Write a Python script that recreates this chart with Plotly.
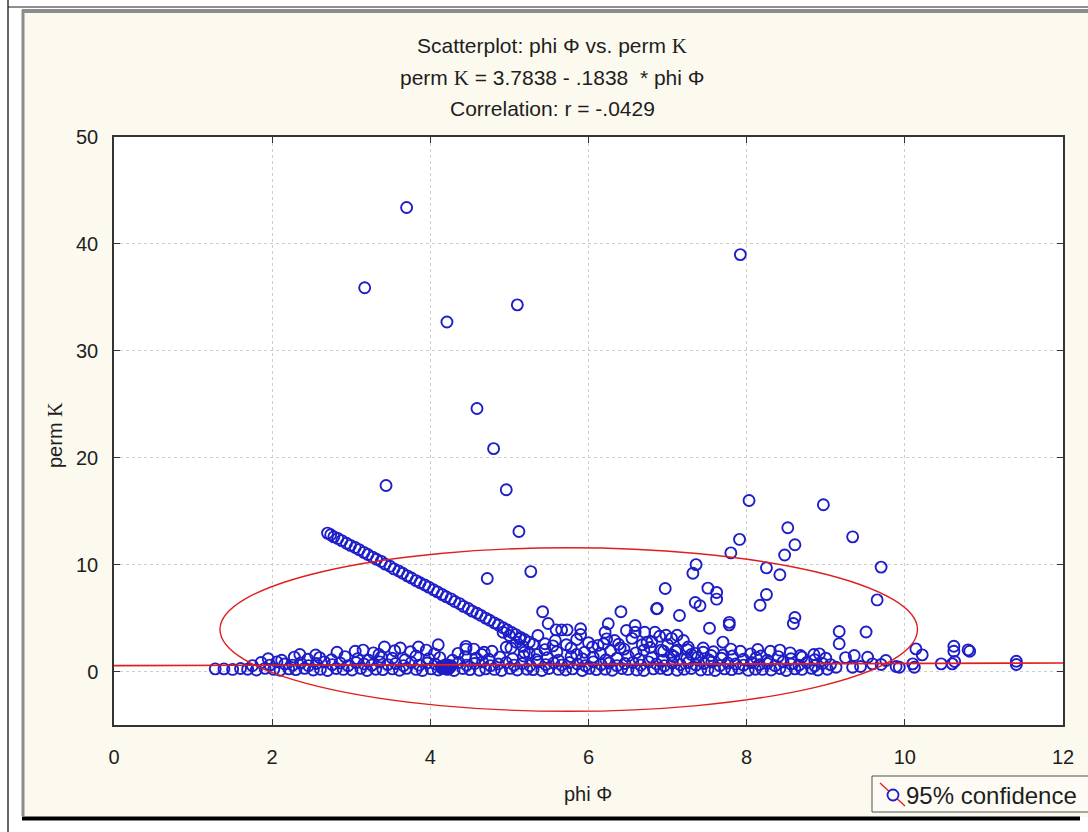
import plotly.graph_objects as go

# ---------------- data ----------------
# isolated high-permeability points
out_phi = [3.70, 3.17, 4.21, 5.10, 4.59,
           4.80, 3.44, 4.96, 5.12, 4.72,
           5.27, 7.92, 8.03, 8.97, 8.52,
           9.34, 7.91, 8.61, 8.48, 7.80,
           7.36, 7.32, 9.70, 8.25, 8.42,
           6.97, 7.51, 7.62, 7.62, 8.25,
           8.17, 6.87, 7.35, 7.41, 7.15,
           8.61, 8.59, 7.78, 7.78, 7.53,
           9.17, 9.17, 9.51, 9.65, 7.70,
           8.14, 5.42, 5.49, 6.41]
out_k = [43.4, 35.9, 32.7, 34.3, 24.6,
         20.85, 17.4, 17.0, 13.1, 8.7,
         9.35, 39.0, 16.0, 15.6, 13.45,
         12.6, 12.36, 11.86, 10.9, 11.1,
         10.0, 9.2, 9.77, 9.7, 9.05,
         7.77, 7.8, 7.4, 6.77, 7.2,
         6.2, 5.9, 6.46, 6.15, 5.24,
         5.05, 4.5, 4.6, 4.37, 4.05,
         3.75, 2.6, 3.7, 6.7, 2.75,
         2.06, 5.6, 4.5, 5.6]

# descending diagonal run of points
diag_phi = [2.70, 2.74, 2.78, 2.83, 2.88, 2.94, 2.99, 3.05, 3.10, 3.16,
            3.21, 3.27, 3.32, 3.38, 3.43, 3.49, 3.54, 3.60, 3.65, 3.71,
            3.76, 3.82, 3.87, 3.93, 3.98, 4.04, 4.09, 4.15, 4.20, 4.26,
            4.31, 4.37, 4.42, 4.48, 4.53, 4.59, 4.64, 4.70, 4.75, 4.81,
            4.86, 4.92, 4.97, 5.03, 5.08, 5.14, 5.19, 5.25, 5.30]
diag_k = [12.95, 12.8, 12.6, 12.45, 12.25, 12.0, 11.8, 11.6, 11.4, 11.15,
          10.95, 10.7, 10.5, 10.3, 10.05, 9.85, 9.6, 9.4, 9.2, 8.95,
          8.75, 8.5, 8.3, 8.1, 7.9, 7.65, 7.45, 7.2, 7.0, 6.8,
          6.55, 6.35, 6.1, 5.9, 5.65, 5.45, 5.25, 5.0, 4.8, 4.55,
          4.35, 4.1, 3.9, 3.65, 3.45, 3.2, 3.0, 2.75, 2.55]

# mid-level points
mid_phi = [5.59, 5.66, 5.73, 5.90, 5.90, 6.25, 6.21, 6.23, 6.19, 6.33,
           6.48, 6.59, 6.59, 6.71, 6.74, 6.84, 6.86, 4.92, 5.00, 5.13,
           5.09, 5.17, 5.36, 4.45, 4.68, 4.96, 5.19,
           6.90, 6.98, 7.05, 7.12, 7.20, 7.26, 7.00, 6.92, 7.10, 7.30, 7.45, 7.55,
           5.45, 5.58, 5.72, 5.85, 6.00, 6.12, 6.38, 6.55, 6.68, 6.80,
           10.14, 10.22, 10.62, 10.62, 10.80, 10.82]
mid_k = [3.9, 3.9, 3.9, 4.0, 3.47, 4.47, 3.68, 3.06, 2.6, 2.9,
         3.84, 4.3, 3.68, 3.68, 2.74, 3.68, 5.87, 3.68, 3.37, 3.06,
         2.74, 2.34, 3.37, 2.1, 1.8, 2.27, 1.8,
         3.3, 3.4, 3.1, 3.4, 2.9, 2.3, 2.5, 2.0, 1.9, 1.6, 2.2, 1.5,
         2.6, 2.9, 2.5, 3.0, 2.7, 2.45, 2.55, 3.1, 2.5, 2.8,
         2.12, 1.56, 2.37, 1.9, 2.03, 1.9]

# dense low band, row by row
band1_phi = [1.28, 1.39, 1.50, 1.60, 1.69, 1.80, 1.91, 2.02, 2.10, 2.21,
             2.30, 2.41, 2.52, 2.61, 2.70, 2.81, 2.90, 3.01, 3.12, 3.20,
             3.31, 3.40, 3.52, 3.61, 3.70, 3.82, 3.90, 4.01, 4.10, 4.18,
             4.22, 4.30, 4.41, 4.50, 4.62, 4.70, 4.81, 4.90, 5.01, 5.10,
             5.22, 5.30, 5.41, 5.50, 5.62, 5.71, 5.80, 5.92, 6.01, 6.10,
             6.21, 6.30, 6.42, 6.50, 6.61, 6.70, 6.82, 6.91, 7.00, 7.12,
             7.21, 7.30, 7.42, 7.51, 7.60, 7.72, 7.81, 7.90, 8.02, 8.11,
             8.20, 8.31, 8.42, 8.50, 8.61, 8.70, 8.82, 8.90, 9.02, 9.13,
             9.34, 9.44, 9.93, 10.12]
band1_k = [0.25, 0.25, 0.20, 0.28, 0.22, 0.15, 0.30, 0.20, 0.12, 0.25,
           0.18, 0.30, 0.15, 0.22, 0.10, 0.28, 0.20, 0.15, 0.30, 0.10,
           0.22, 0.18, 0.25, 0.12, 0.30, 0.20, 0.10, 0.25, 0.15, 0.30,
           0.20, 0.10, 0.28, 0.18, 0.12, 0.25, 0.20, 0.10, 0.30, 0.15,
           0.22, 0.18, 0.10, 0.28, 0.20, 0.15, 0.25, 0.10, 0.30, 0.18,
           0.22, 0.12, 0.28, 0.20, 0.15, 0.10, 0.25, 0.30, 0.18, 0.12,
           0.22, 0.28, 0.15, 0.20, 0.10, 0.25, 0.18, 0.30, 0.12, 0.22,
           0.20, 0.15, 0.28, 0.10, 0.25, 0.20, 0.30, 0.15, 0.22, 0.40,
           0.40, 0.47, 0.40, 0.40]

band2_phi = [1.75, 1.86, 1.97, 2.06, 2.16, 2.26, 2.36, 2.46, 2.56, 2.66,
             2.76, 2.86, 2.96, 3.06, 3.16, 3.26, 3.36, 3.46, 3.56, 3.66,
             3.76, 3.86, 3.96, 4.06, 4.14, 4.20, 4.26, 4.36, 4.46, 4.56,
             4.66, 4.76, 4.86, 4.96, 5.06, 5.16, 5.26, 5.36, 5.46, 5.56,
             5.66, 5.76, 5.86, 5.96, 6.06, 6.16, 6.26, 6.36, 6.46, 6.56,
             6.66, 6.76, 6.86, 6.96, 7.06, 7.16, 7.26, 7.36, 7.46, 7.56,
             7.66, 7.76, 7.86, 7.96, 8.06, 8.16, 8.26, 8.36, 8.46, 8.56,
             8.66, 8.76, 8.86, 8.96, 9.06, 9.59, 9.70, 9.89, 10.10, 10.46,
             10.60, 10.63, 11.41, 11.41]
band2_k = [0.55, 0.85, 0.60, 0.90, 0.70, 0.60, 0.80, 0.55, 0.75, 0.90,
           0.65, 0.80, 0.55, 0.85, 0.70, 0.60, 0.90, 0.65, 0.75, 0.55,
           0.85, 0.60, 0.80, 0.70, 0.50, 0.65, 0.55, 0.85, 0.60, 0.75,
           0.90, 0.55, 0.70, 0.85, 0.60, 0.75, 0.55, 0.90, 0.65, 0.80,
           0.60, 0.85, 0.70, 0.55, 0.90, 0.65, 0.80, 0.55, 0.75, 0.85,
           0.60, 0.90, 0.70, 0.55, 0.80, 0.65, 0.85, 0.60, 0.75, 0.90,
           0.55, 0.80, 0.70, 0.60, 0.85, 0.65, 0.75, 0.55, 0.90, 0.70,
           0.60, 0.85, 0.55, 0.75, 0.65, 0.72, 0.66, 0.47, 0.72, 0.72,
           0.72, 0.94, 0.96, 0.66]

band3_phi = [1.95, 2.12, 2.28, 2.45, 2.60, 2.75, 2.92, 3.08, 3.22, 3.38,
             3.52, 3.68, 3.82, 3.98, 4.12, 4.28, 4.44, 4.58, 4.74, 4.88,
             5.04, 5.18, 5.34, 5.48, 5.62, 5.78, 5.92, 6.06, 6.22, 6.36,
             6.50, 6.64, 6.80, 6.94, 7.08, 7.24, 7.38, 7.52, 7.68, 7.82,
             7.96, 8.12, 8.26, 8.40, 8.56, 8.70, 8.86, 9.00, 9.36, 9.53,
             9.76]
band3_k = [1.2, 1.05, 1.35, 1.15, 1.3, 1.1, 1.4, 1.2, 1.05, 1.35,
           1.25, 1.1, 1.45, 1.2, 1.3, 1.05, 1.4, 1.25, 1.15, 1.35,
           1.2, 1.45, 1.1, 1.3, 1.05, 1.4, 1.2, 1.35, 1.1, 1.25,
           1.45, 1.15, 1.3, 1.05, 1.4, 1.2, 1.35, 1.1, 1.25, 1.45,
           1.15, 1.3, 1.05, 1.4, 1.2, 1.35, 1.1, 1.25, 1.5, 1.34,
           1.03]

band4_phi = [2.82, 3.05, 3.28, 3.42, 3.62, 3.75, 3.95, 4.10, 4.35, 4.55,
             4.78, 5.02, 5.25, 5.45, 5.60, 5.78, 5.95, 6.05, 6.28, 6.45,
             6.60, 6.78, 6.95, 7.12, 7.35, 7.58, 7.80, 8.05, 8.30, 8.55,
             8.85, 4.15, 4.17, 4.19, 4.21, 4.23, 4.25, 4.18, 4.20, 4.22, 4.24]
band4_k = [1.8, 1.9, 1.75, 2.3, 2.2, 1.85, 2.0, 2.5, 1.7, 2.1,
           1.9, 2.2, 1.75, 2.05, 1.85, 2.2, 1.8, 2.3, 1.95, 2.1,
           1.75, 2.25, 1.9, 2.0, 1.7, 1.85, 2.1, 1.65, 1.9, 1.75,
           1.6, 0.3, 0.45, 0.35, 0.5, 0.3, 0.4, 0.55, 0.25, 0.6, 0.35]

band5_phi = [2.35, 2.55, 3.15, 3.35, 3.55, 3.85, 4.05, 4.45, 4.65, 5.35,
             5.55, 5.85, 6.15, 6.40, 6.70, 7.05, 7.25, 7.45, 7.70, 7.92,
             8.18, 8.42, 8.68, 8.92, 9.25]
band5_k = [1.6, 1.55, 2.0, 1.6, 1.95, 2.3, 1.65, 2.35, 1.6, 1.6,
           2.4, 1.6, 1.7, 2.2, 2.0, 1.55, 2.05, 1.8, 1.55, 1.9,
           1.45, 2.0, 1.5, 1.65, 1.3]

# regression line end points and 95% confidence ellipse bounds
reg_phi = [0.0, 12.0]
reg_k = [0.55, 0.80]
ell_phi = [1.34, 10.16]
ell_k = [-3.72, 11.58]

x_ticks = [0, 2, 4, 6, 8, 10, 12]
y_ticks = [0, 10, 20, 30, 40, 50]

groups = [(out_phi, out_k), (diag_phi, diag_k), (mid_phi, mid_k),
          (band1_phi, band1_k), (band2_phi, band2_k),
          (band3_phi, band3_k), (band4_phi, band4_k), (band5_phi, band5_k)]
all_phi, all_k = [], []
for gx, gy in groups:
    if len(gx) != len(gy):
        raise ValueError("length mismatch %d %d" % (len(gx), len(gy)))
    all_phi += gx
    all_k += gy

# ---------------- figure ----------------
W, H = 1088, 832
L, R, T, B = 114, 1063, 137, 725
def fx(px):
    return (px - L) / (R - L)
def fy(py):
    return (B - py) / (B - T)

BLUE = "#1E1EC8"
RED = "#E01E1E"
FONT = "Liberation Sans, Arial, sans-serif"
TXT = "#1E1E1E"

fig = go.Figure()
fig.add_trace(go.Scatter(
    x=all_phi, y=all_k, mode="markers",
    marker=dict(symbol="circle-open", size=11, color=BLUE, line=dict(width=1.9, color=BLUE)),
    hoverinfo="skip"))
fig.add_trace(go.Scatter(x=reg_phi, y=reg_k, mode="lines",
                         line=dict(color=RED, width=1.7), hoverinfo="skip"))

shapes = []
# confidence ellipse
shapes.append(dict(type="circle", xref="x", yref="y", x0=ell_phi[0], x1=ell_phi[1],
                   y0=ell_k[0], y1=ell_k[1], line=dict(color=RED, width=1.4), layer="above"))
# white surround outside the cream panel
for (x0, y0, x1, y1) in [(-5, -5, 22, 840), (-5, -5, 1095, 9), (-5, 817, 1095, 840)]:
    shapes.append(dict(type="rect", xref="paper", yref="paper", x0=fx(x0), x1=fx(x1),
                       y0=fy(y1), y1=fy(y0), fillcolor="white", line=dict(width=0), layer="below"))
# frame lines
shapes.append(dict(type="line", xref="paper", yref="paper", x0=fx(8), x1=fx(8), y0=fy(0), y1=fy(832),
                   line=dict(color="#000000", width=1.2)))
shapes.append(dict(type="line", xref="paper", yref="paper", x0=fx(8), x1=fx(1090), y0=fy(7), y1=fy(7),
                   line=dict(color="#202020", width=1.2)))
shapes.append(dict(type="line", xref="paper", yref="paper", x0=fx(22), x1=fx(1090), y0=fy(11), y1=fy(11),
                   line=dict(color="#8C8C8C", width=4)))
shapes.append(dict(type="line", xref="paper", yref="paper", x0=fx(23), x1=fx(23), y0=fy(10), y1=fy(816),
                   line=dict(color="#8C8C8C", width=3)))
shapes.append(dict(type="line", xref="paper", yref="paper", x0=fx(22), x1=fx(1080), y0=fy(818.5), y1=fy(818.5),
                   line=dict(color="#000000", width=4)))
# legend box
shapes.append(dict(type="rect", xref="paper", yref="paper", x0=fx(872), x1=fx(1100), y0=fy(812), y1=fy(776),
                   fillcolor="#FDFBF4", line=dict(color="#505050", width=1)))
shapes.append(dict(type="line", xref="paper", yref="paper", x0=fx(880), x1=fx(905), y0=fy(783), y1=fy(806),
                   line=dict(color=RED, width=1.3)))
shapes.append(dict(type="circle", xref="paper", yref="paper", x0=fx(887.5), x1=fx(898.5), y0=fy(800.5), y1=fy(789.5),
                   fillcolor="#FDFBF4", line=dict(color=BLUE, width=1.8)))

K_SERIF = '<span style="font-family:Liberation Serif, serif">K</span>'
annotations = [
    dict(text="Scatterplot: phi \u03a6 vs. perm " + K_SERIF, x=fx(552), y=fy(46), size=21),
    dict(text="perm " + K_SERIF + " = 3.7838 - .1838  * phi \u03a6", x=fx(552), y=fy(78), size=21),
    dict(text="Correlation: r = -.0429", x=fx(552), y=fy(109), size=21),
    dict(text="phi \u03a6", x=fx(588), y=fy(794), size=20),
    dict(text="perm " + K_SERIF, x=fx(55), y=fy(435), textangle=-90, size=20),
    dict(text="95% confidence", x=fx(904), y=fy(795), xanchor="left", size=24),
]
for a in annotations:
    a.setdefault("xanchor", "center")
    sz = a.pop("size")
    a.update(xref="paper", yref="paper", yanchor="middle", showarrow=False,
             font=dict(family=FONT, size=sz, color=TXT))

fig.update_layout(
    width=W, height=H,
    margin=dict(l=L, r=W - R, t=T, b=H - B, pad=0),
    paper_bgcolor="#FCF9EF", plot_bgcolor="white",
    showlegend=False,
    shapes=shapes, annotations=annotations,
    font=dict(family=FONT, size=20, color=TXT),
    xaxis=dict(range=[0, 12], tickvals=x_ticks, ticks="inside", ticklen=6, tickcolor="#333",
               showline=True, linecolor="#333", linewidth=1.5, mirror="ticks",
               showgrid=True, gridcolor="#CDCDCD", griddash="dot", gridwidth=1,
               zeroline=False, ticklabelstandoff=13),
    yaxis=dict(range=[-5, 50], tickvals=y_ticks, ticks="inside", ticklen=6, tickcolor="#333",
               showline=True, linecolor="#333", linewidth=1.5, mirror="ticks",
               showgrid=True, gridcolor="#CDCDCD", griddash="dot", gridwidth=1,
               zeroline=False, ticklabelstandoff=10),
)

fig.write_html("out.html")
